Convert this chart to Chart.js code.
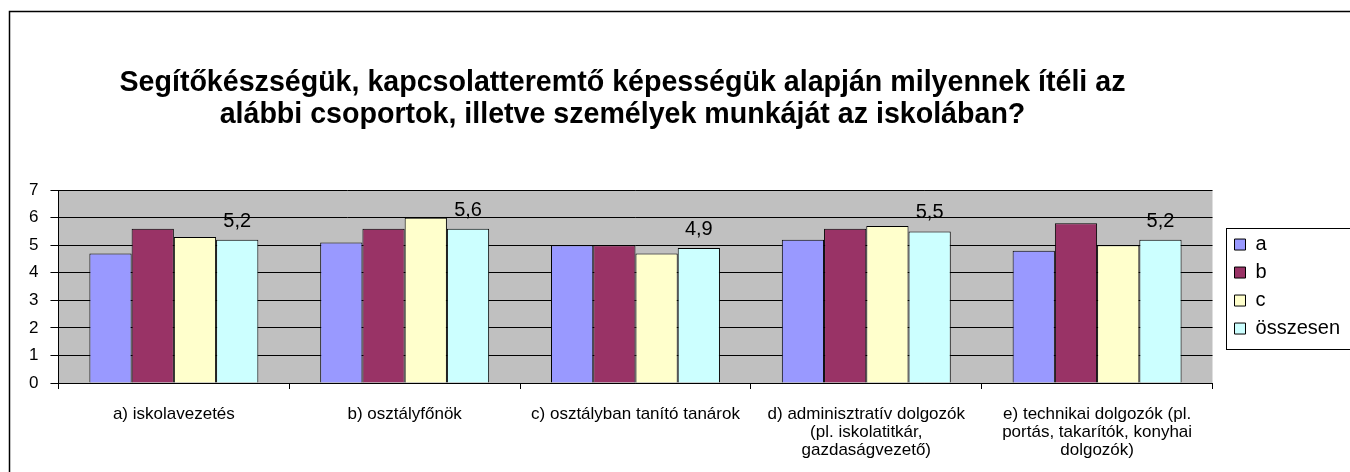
<!DOCTYPE html>
<html>
<head>
<meta charset="utf-8">
<script src="https://cdn.jsdelivr.net/npm/chart.js@4.4.1/dist/chart.umd.min.js"></script>
<style>
  html, body { margin: 0; padding: 0; background: #fff; overflow: hidden; }
  #doboz { width: 1350px; height: 472px; position: relative; }
</style>
</head>
<body>
<div id="doboz"><canvas id="myChart"></canvas></div>
<script>
// kategóriák (többsoros tengelyfeliratok)
const kategoriak = [
  ['a) iskolavezetés'],
  ['b) osztályfőnök'],
  ['c) osztályban tanító tanárok'],
  ['d) adminisztratív dolgozók', '(pl. iskolatitkár,', 'gazdaságvezető)'],
  ['e) technikai dolgozók (pl.', 'portás, takarítók, konyhai', 'dolgozók)']
];
const sorozatNevek = ['a', 'b', 'c', 'összesen'];
const ertekA = [4.7, 5.1, 5.0, 5.2, 4.8];
const ertekB = [5.6, 5.6, 5.0, 5.6, 5.8];
const ertekC = [5.3, 6.0, 4.7, 5.7, 5.0];
const ertekOsszesen = [5.2, 5.6, 4.9, 5.5, 5.2];
const yMin = 0;
const yMax = 7;
const cim = [
  'Segítőkészségük, kapcsolatteremtő képességük alapján milyennek ítéli az',
  'alábbi csoportok, illetve személyek munkáját az iskolában?'
];

const BETU = '"Liberation Sans", Arial, sans-serif';
var ctx = document.getElementById('myChart').getContext('2d');

// háttér a rajzterületen + keret a teljes diagram körül
const keret = {
  id: 'keret',
  afterLayout(chart) {
    // a cím kicsit balra tolva, mint az eredetin
    const t = chart.titleBlock;
    if (t) { t.left -= 13; t.right -= 13; }
  },
  beforeDraw(chart) {
    const c = chart.ctx;
    const a = chart.chartArea;
    c.save();
    c.fillStyle = '#C0C0C0';
    c.fillRect(a.left, a.top, a.right - a.left, a.bottom - a.top);
    c.strokeStyle = '#000';
    c.lineWidth = 1.5;
    c.strokeRect(9.5, 11.5, chart.width + 20, chart.height + 20);
    c.restore();
  }
};

// értékfeliratok az "összesen" oszlopok fölött
const feliratok = {
  id: 'feliratok',
  afterDatasetsDraw(chart) {
    const c = chart.ctx;
    const meta = chart.getDatasetMeta(3);
    c.save();
    c.font = '20px ' + BETU;
    c.fillStyle = '#000';
    c.textAlign = 'center';
    c.textBaseline = 'alphabetic';
    meta.data.forEach(function(oszlop, i) {
      c.fillText(String(ertekOsszesen[i]).replace('.', ','), oszlop.x, oszlop.y - 13);
    });
    c.restore();
  }
};

// jelmagyarázat kerete
const jelkeret = {
  id: 'jelkeret',
  afterDraw(chart) {
    const lg = chart.legend;
    if (!lg || !lg.legendHitBoxes || !lg.legendHitBoxes.length) return;
    const hb = lg.legendHitBoxes;
    const top = hb[0].top - 7;
    const bottom = hb[hb.length - 1].top + hb[hb.length - 1].height + 10;
    const left = hb[0].left - 9;
    const c = chart.ctx;
    c.save();
    c.strokeStyle = '#000';
    c.lineWidth = 1;
    c.strokeRect(Math.round(left) + 0.5, Math.round(top) + 0.5, 200, Math.round(bottom - top));
    c.restore();
  }
};

chart = new Chart(ctx, {
  type: 'bar',
  data: {
    labels: kategoriak,
    datasets: [
      { label: sorozatNevek[0], data: ertekA, backgroundColor: '#9999FF', borderColor: '#000', borderWidth: 1 },
      { label: sorozatNevek[1], data: ertekB, backgroundColor: '#993366', borderColor: '#000', borderWidth: 1 },
      { label: sorozatNevek[2], data: ertekC, backgroundColor: '#FFFFCC', borderColor: '#000', borderWidth: 1 },
      { label: sorozatNevek[3], data: ertekOsszesen, backgroundColor: '#CCFFFF', borderColor: '#000', borderWidth: 1 }
    ]
  },
  options: {
    responsive: true,
    maintainAspectRatio: false,
    animation: false,
    barPercentage: 1,
    categoryPercentage: 0.732,
    layout: { padding: { left: 17, right: 0, top: 0, bottom: 0 } },
    plugins: {
      title: {
        display: true,
        text: cim,
        color: '#000',
        fullSize: false,
        font: { family: BETU, size: 28.6, weight: 'bold', lineHeight: 1.12 },
        padding: { top: 67, bottom: 59 }
      },
      legend: {
        position: 'right',
        fullSize: false,
        align: 'center',
        labels: {
          color: '#000',
          boxWidth: 11,
          boxHeight: 11,
          padding: 8,
          font: { family: BETU, size: 20 }
        }
      },
      tooltip: { enabled: false }
    },
    scales: {
      x: {
        grid: { offset: true, drawOnChartArea: false, color: '#000', tickLength: 6 },
        border: { color: '#000' },
        ticks: { color: '#000', autoSkip: false, maxRotation: 0, padding: 16, font: { family: BETU, size: 17, lineHeight: 1.06 } },
        afterFit: function(s) { s.height = 89; }
      },
      y: {
        min: yMin,
        max: yMax,
        grid: { color: '#000', tickLength: 8 },
        border: { color: '#000' },
        ticks: { stepSize: 1, color: '#000', padding: 12, font: { family: BETU, size: 17 } }
      },
      hezag: {
        type: 'linear',
        position: 'right',
        grid: { display: false },
        border: { display: false },
        ticks: { display: false },
        afterFit: function(s) { s.width = 14; }
      }
    }
  },
  plugins: [keret, feliratok, jelkeret]
});
</script>
</body>
</html>
